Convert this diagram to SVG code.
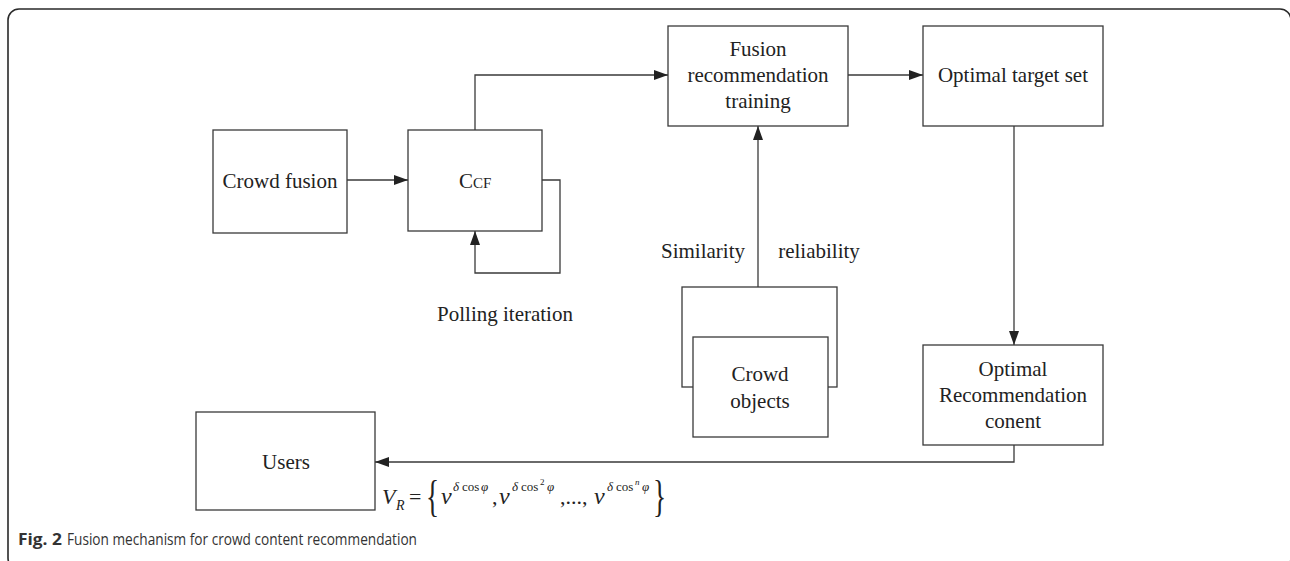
<svg xmlns="http://www.w3.org/2000/svg" width="1290" height="561" viewBox="0 0 1290 561">
  <defs>
    <style>
      .frame { fill: none; stroke: #2a2a2a; stroke-width: 1.6; }
      .box { fill: #ffffff; stroke: #3a3a3a; stroke-width: 1.3; }
      .line { fill: none; stroke: #3a3a3a; stroke-width: 1.3; }
      .lbl { font-family: "Liberation Serif", "Times New Roman", serif; font-size: 21px; fill: #222; text-anchor: middle; }
      .lbl-l { font-family: "Liberation Serif", "Times New Roman", serif; font-size: 21px; fill: #222; }
      .math { font-family: "Liberation Serif", "Times New Roman", serif; font-style: italic; fill: #222; }
      .mathr { font-family: "Liberation Serif", "Times New Roman", serif; font-style: normal; fill: #222; }
      .cap { font-family: "Open Sans", "Noto Sans", sans-serif; font-size: 16.5px; fill: #333; }
    </style>
    <marker id="arr" viewBox="0 0 14 10" refX="14" refY="5" markerWidth="14" markerHeight="10" markerUnits="userSpaceOnUse" orient="auto">
      <path d="M0,0 L14,5 L0,10 z" fill="#222"/>
    </marker>
  </defs>

  <rect width="1290" height="561" fill="#ffffff"/>
  <!-- outer frame -->
  <rect class="frame" x="8" y="9" width="1283" height="560" rx="11" ry="11"/>

  <!-- connectors -->
  <g id="connectors">
    <line class="line" x1="347" y1="180" x2="408" y2="180" marker-end="url(#arr)"/>
    <polyline class="line" points="542,180 560,180 560,273 475,273 475,231" marker-end="url(#arr)"/>
    <polyline class="line" points="475,130 475,75 668,75" marker-end="url(#arr)"/>
    <line class="line" x1="848" y1="75" x2="923" y2="75" marker-end="url(#arr)"/>
    <line class="line" x1="1014" y1="126" x2="1014" y2="345" marker-end="url(#arr)"/>
    <line class="line" x1="758" y1="287" x2="758" y2="126" marker-end="url(#arr)"/>
    <polyline class="line" points="1014,445 1014,462 375,462" marker-end="url(#arr)"/>
  </g>

  <g id="crowd-fusion">
    <rect class="box" x="213" y="130" width="134" height="103"/>
    <text class="lbl" x="280" y="188">Crowd fusion</text>
  </g>

  <g id="ccf">
    <rect class="box" x="408" y="130" width="134" height="101"/>
    <text class="lbl-l" x="459" y="188">C<tspan font-size="15">CF</tspan></text>
  </g>

  <g id="polling-label">
    <text class="lbl" x="505" y="321">Polling iteration</text>
  </g>

  <g id="fusion-training">
    <rect class="box" x="668" y="26" width="180" height="100"/>
    <text class="lbl" x="758" y="56">Fusion</text>
    <text class="lbl" x="758" y="82">recommendation</text>
    <text class="lbl" x="758" y="108">training</text>
  </g>

  <g id="optimal-target">
    <rect class="box" x="923" y="26" width="180" height="100"/>
    <text class="lbl" x="1013" y="82">Optimal target set</text>
  </g>

  <g id="edge-labels">
    <text class="lbl" x="703" y="258">Similarity</text>
    <text class="lbl" x="819" y="258">reliability</text>
  </g>

  <g id="crowd-objects">
    <rect class="box" x="682" y="287" width="155" height="100"/>
    <rect class="box" x="693" y="337" width="135" height="100"/>
    <text class="lbl" x="760" y="381">Crowd</text>
    <text class="lbl" x="760" y="408">objects</text>
  </g>

  <g id="optimal-recommendation">
    <rect class="box" x="923" y="345" width="180" height="100"/>
    <text class="lbl" x="1013" y="376">Optimal</text>
    <text class="lbl" x="1013" y="402">Recommendation</text>
    <text class="lbl" x="1013" y="428">conent</text>
  </g>

  <g id="users">
    <rect class="box" x="196" y="412" width="179" height="98"/>
    <text class="lbl" x="286" y="469">Users</text>
  </g>

  <!-- V_R formula under the return connector -->
  <g id="formula">
    <text class="math" x="382" y="504" font-size="22">V</text>
    <text class="math" x="396" y="510" font-size="14">R</text>
    <text class="mathr" x="409" y="504" font-size="22">=</text>
    <text class="mathr" x="0" y="0" font-size="44" transform="translate(426,511) scale(0.62,1)">{</text>

    <text class="math" x="441" y="504" font-size="24">ν</text>
    <text class="math" x="453" y="491" font-size="13">δ</text>
    <text class="mathr" x="462" y="491" font-size="13">cos</text>
    <text class="math" x="481" y="491" font-size="13">φ</text>
    <text class="mathr" x="492" y="504" font-size="22">,</text>

    <text class="math" x="499" y="504" font-size="24">ν</text>
    <text class="math" x="512" y="491" font-size="13">δ</text>
    <text class="mathr" x="521" y="491" font-size="13">cos</text>
    <text class="mathr" x="540" y="485" font-size="9">2</text>
    <text class="math" x="547" y="491" font-size="13">φ</text>

    <text class="mathr" x="560" y="504" font-size="22">,...,</text>

    <text class="math" x="594" y="504" font-size="24">ν</text>
    <text class="math" x="607" y="491" font-size="13">δ</text>
    <text class="mathr" x="616" y="491" font-size="13">cos</text>
    <text class="math" x="635" y="485" font-size="9">n</text>
    <text class="math" x="642" y="491" font-size="13">φ</text>
    <text class="mathr" x="0" y="0" font-size="44" transform="translate(653,511) scale(0.62,1)">}</text>
  </g>

  <g id="caption">
    <text class="cap" x="18" y="545" font-weight="bold" textLength="44" lengthAdjust="spacingAndGlyphs">Fig. 2</text>
    <text class="cap" x="67" y="545" textLength="350" lengthAdjust="spacingAndGlyphs">Fusion mechanism for crowd content recommendation</text>
  </g>
</svg>
